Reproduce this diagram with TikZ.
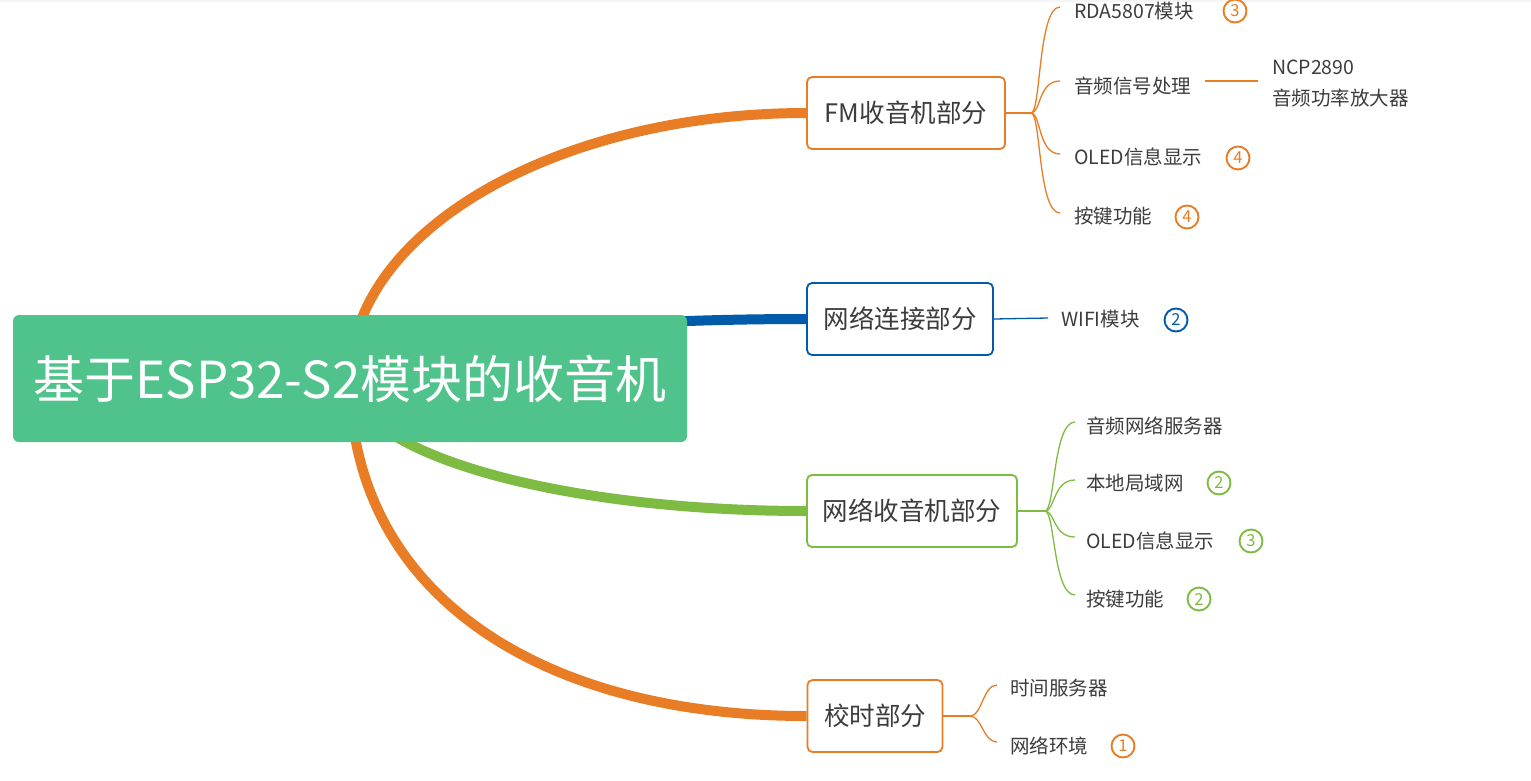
\documentclass[tikz,border=0pt]{standalone}
\usepackage{fontspec}
\setmainfont{Noto Sans CJK SC}
\usetikzlibrary{calc,backgrounds}
\definecolor{orng}{HTML}{E87D26}
\definecolor{blu}{HTML}{005BAA}
\definecolor{grn}{HTML}{7DBB42}
\definecolor{rootg}{HTML}{50C38C}
\definecolor{txt}{HTML}{3C3C3C}
\begin{document}
\begin{tikzpicture}[x=1pt,y=-1pt,
  rootbox/.style={fill=rootg, rounded corners=6pt, minimum width=674pt, minimum height=127pt, text=white, font=\fontsize{51}{60}\selectfont, inner sep=0pt},
  branchbox/.style={draw=#1, line width=1.8pt, fill=white, rounded corners=5pt, minimum height=72pt, text=txt, font=\fontsize{25.5}{30}\selectfont, inner sep=0pt},
  leaf/.style={anchor=west, text=txt, font=\fontsize{19.5}{23}\selectfont, inner sep=0pt},
  badge/.style={circle, draw=#1, line width=1.9pt, minimum size=23pt, inner sep=0pt, text=#1, font=\fontsize{16.5}{16.5}\selectfont},
  majorlink/.style={draw=#1, line width=10pt},
  minorlink/.style={draw=#1, line width=1.3pt},
]
\useasboundingbox (0,0) rectangle (1531,780);
\fill[black!4] (0,0) rectangle (1531,2);

% root and branch topics
\node[rootbox] (root) at (350,378.5) {基于ESP32-S2模块的收音机};
\node[branchbox=orng, minimum width=198pt] (fm) at (906,113) {FM收音机部分};
\node[branchbox=blu, minimum width=186pt] (net) at (900,319) {网络连接部分};
\node[branchbox=grn, minimum width=210pt] (nr) at (912,511) {网络收音机部分};
\node[branchbox=orng, minimum width=135pt] (time) at (875,716) {校时部分};

% main links (behind)
\begin{pgfonlayer}{background}
\draw[majorlink=orng] (root.center) .. controls (350,232) and (555,113) .. (fm.west);
\draw[majorlink=blu] (root.center) .. controls (350,345) and (555,319) .. (net.west);
\draw[majorlink=grn] (root.center) .. controls (350,452) and (555,511) .. (nr.west);
\draw[majorlink=orng] (root.center) .. controls (350,590) and (535,716) .. (time.west);
\end{pgfonlayer}

% FM group
\node[leaf] (rda) at (1074,11) {RDA5807模块};
\node[leaf] (audio) at (1074,86) {音频信号处理};
\node[leaf, align=left, font=\fontsize{19.5}{31}\selectfont] (ncp) at (1272,83.5) {NCP2890\\音频功率放大器};
\node[leaf] (oleda) at (1074,157) {OLED信息显示};
\node[leaf] (keya) at (1074,216) {按键功能};
\node[badge=orng] (b1) at (1235,11) {3};
\node[badge=orng] (b2) at (1238,158) {4};
\node[badge=orng] (b3) at (1187,217) {4};
\coordinate (fmj) at (1031,113);
\draw[minorlink=orng] (fm.east) -- (fmj);
\draw[minorlink=orng] (fmj) .. controls +(10,0) and +(-22,0) .. ($(rda.west)+(-14,-4)$);
\draw[minorlink=orng] (fmj) .. controls +(10,0) and +(-22,0) .. ($(audio.west)+(-14,-5)$);
\draw[minorlink=orng] (fmj) .. controls +(10,0) and +(-22,0) .. ($(oleda.west)+(-14,-3)$);
\draw[minorlink=orng] (fmj) .. controls +(10,0) and +(-22,0) .. ($(keya.west)+(-14,-3)$);
\draw[minorlink=orng] ($(audio.east)+(14,-5)$) -- ($(ncp.west)+(-14,-2.5)$);

% network connection group
\node[leaf] (wifi) at (1061,319) {WIFI模块};
\node[badge=blu] (b4) at (1176,320) {2};
\draw[minorlink=blu] (net.east) -- ($(wifi.west)+(-13,-1)$);

% network radio group
\node[leaf] (srv) at (1086,426) {音频网络服务器};
\node[leaf] (lan) at (1086,483) {本地局域网};
\node[leaf] (oledb) at (1086,541) {OLED信息显示};
\node[leaf] (keyb) at (1086,599) {按键功能};
\node[badge=grn] (b5) at (1219,483) {2};
\node[badge=grn] (b6) at (1251,541) {3};
\node[badge=grn] (b7) at (1199,599) {2};
\coordinate (nrj) at (1045,511);
\draw[minorlink=grn] (nr.east) -- (nrj);
\draw[minorlink=grn] (nrj) .. controls +(10,0) and +(-22,0) .. ($(srv.west)+(-11,-4)$);
\draw[minorlink=grn] (nrj) .. controls +(10,0) and +(-22,0) .. ($(lan.west)+(-11,-3)$);
\draw[minorlink=grn] (nrj) .. controls +(10,0) and +(-22,0) .. ($(oledb.west)+(-11,-4)$);
\draw[minorlink=grn] (nrj) .. controls +(10,0) and +(-22,0) .. ($(keyb.west)+(-11,-4)$);

% time group
\node[leaf] (tsrv) at (1010,688) {时间服务器};
\node[leaf] (env) at (1010,746) {网络环境};
\node[badge=orng] (b8) at (1123,746) {1};
\coordinate (tj) at (970,716);
\draw[minorlink=orng] (time.east) -- (tj);
\draw[minorlink=orng] (tj) .. controls +(12,0) and +(-14,0) .. ($(tsrv.west)+(-13,-3)$);
\draw[minorlink=orng] (tj) .. controls +(12,0) and +(-14,0) .. ($(env.west)+(-13,-4)$);
\end{tikzpicture}
\end{document}
